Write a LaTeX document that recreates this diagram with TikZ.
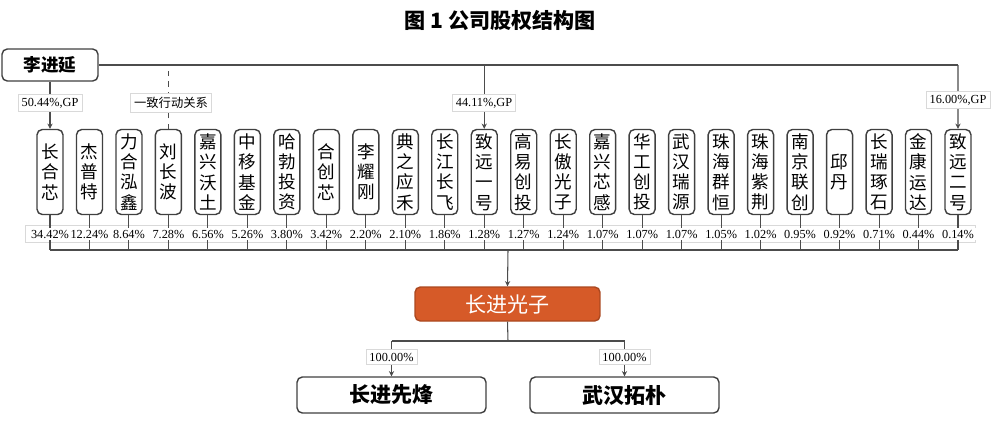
\documentclass[tikz,border=0pt]{standalone}
\usepackage{fontspec}
\setmainfont{Liberation Serif}
\newfontfamily\cjk{Noto Sans CJK SC}
\usetikzlibrary{arrows.meta}
\definecolor{org}{HTML}{D65A28}
\begin{document}
\begin{tikzpicture}[x=0.02cm,y=-0.02cm,
 sh/.style={rounded corners=3pt,draw=black!75,line width=0.8pt,fill=white},
 vbox/.style={sh,minimum width=0.52cm,minimum height=1.7cm,inner sep=0pt,align=center,font=\cjk\fontsize{10}{11.5}\selectfont},
 lbl/.style={draw=black!15,fill=white,inner sep=2pt,font=\fontsize{7}{8}\selectfont},
 ln/.style={draw=black!70,line width=0.6pt},
 arr/.style={ln,-{Stealth[length=3pt,width=3pt]}}]
\useasboundingbox (0,0) rectangle (1000,424);
\node[font=\cjk\bfseries\fontsize{12}{14}\selectfont] (title) at (500,20) {图 1 公司股权结构图};
\node[sh,minimum width=1.92cm,minimum height=0.64cm,font=\cjk\bfseries\fontsize{10}{12}\selectfont] (li) at (50,65) {李进延};
\coordinate (r) at (958,65);
\draw[ln] (li.east) -- (r);
\def\names{{"长\\合\\芯","杰\\普\\特","力\\合\\泓\\鑫","刘\\长\\波","嘉\\兴\\沃\\土","中\\移\\基\\金","哈\\勃\\投\\资","合\\创\\芯","李\\耀\\刚","典\\之\\应\\禾","长\\江\\长\\飞","致\\远\\一\\号","高\\易\\创\\投","长\\傲\\光\\子","嘉\\兴\\芯\\感","华\\工\\创\\投","武\\汉\\瑞\\源","珠\\海\\群\\恒","珠\\海\\紫\\荆","南\\京\\联\\创","邱\\丹","长\\瑞\\琢\\石","金\\康\\运\\达","致\\远\\二\\号"}}
\def\pcts{{"34.42\%","12.24\%","8.64\%","7.28\%","6.56\%","5.26\%","3.80\%","3.42\%","2.20\%","2.10\%","1.86\%","1.28\%","1.27\%","1.24\%","1.07\%","1.07\%","1.07\%","1.05\%","1.02\%","0.95\%","0.92\%","0.71\%","0.44\%","0.14\%"}}
\node[draw=black!15,fill=white,minimum width=19.0cm,minimum height=0.34cm] (pb) at (500,234) {};
\draw[ln] (50,250) -- (958,250);
\foreach \i in {0,...,23} {
  \pgfmathsetmacro\xx{50+\i*39.478}
  \pgfmathparse{\names[\i]}\let\nm\pgfmathresult
  \node[vbox] (b\i) at (\xx,172) {\nm};
  \draw[ln] (b\i.south) -- (\xx,250);
  \pgfmathparse{\pcts[\i]}\let\pc\pgfmathresult
  \node[font=\fontsize{7}{8}\selectfont,inner sep=1pt,fill=white] (p\i) at (\xx,234) {\pc};
}
\draw[arr] (li.south) -- (b0.north);
\draw[ln,dashed] (b3.north) -- (b3.north |- r);
\draw[arr] (b11.north |- r) -- (b11.north);
\draw[arr] (r) -- (b23.north);
\node[lbl] (l1) at (50,103) {50.44\%,GP};
\node[lbl,font=\cjk\fontsize{7}{8}\selectfont] (l2) at (171,103) {一致行动关系};
\node[lbl] (l3) at (484,103) {44.11\%,GP};
\node[lbl] (l4) at (958,100) {16.00\%,GP};
\node[sh,fill=org,draw=org!80!black,minimum width=3.7cm,minimum height=0.68cm,text=white,font=\cjk\fontsize{12}{14}\selectfont] (cj) at (507.5,304) {长进光子};
\draw[arr] (508,250) -- (cj.north);
\node[sh,minimum width=3.78cm,minimum height=0.72cm,font=\cjk\bfseries\fontsize{12}{14}\selectfont] (s1) at (391.5,395) {长进先烽};
\node[sh,minimum width=3.78cm,minimum height=0.72cm,font=\cjk\bfseries\fontsize{12}{14}\selectfont] (s2) at (624.5,395) {武汉拓朴};
\coordinate (m) at (508,341);
\draw[ln] (cj.south) -- (m);
\draw[ln] (s1.north |- m) -- (s2.north |- m);
\draw[arr] (s1.north |- m) -- (s1.north);
\draw[arr] (s2.north |- m) -- (s2.north);
\node[lbl] (q1) at (391.5,357) {100.00\%};
\node[lbl] (q2) at (624.5,357) {100.00\%};
\end{tikzpicture}
\end{document}
